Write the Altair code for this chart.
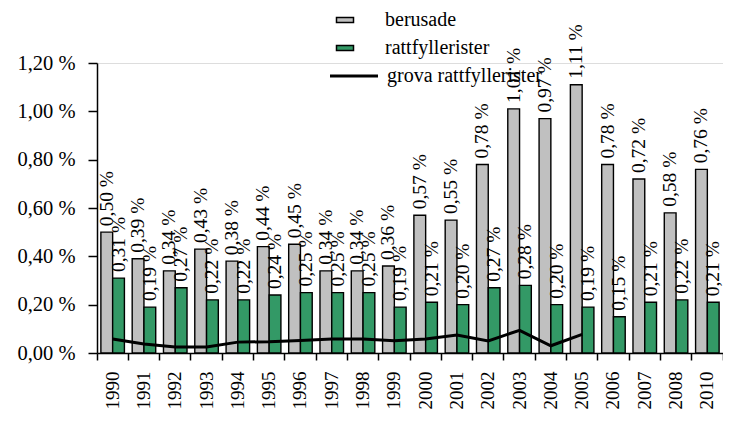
import altair as alt
import pandas as pd

years = ["1990", "1991", "1992", "1993", "1994", "1995", "1996", "1997", "1998", "1999",
         "2000", "2001", "2002", "2003", "2004", "2005", "2006", "2007", "2008", "2010"]
berusade = [0.50, 0.39, 0.34, 0.43, 0.38, 0.44, 0.45, 0.34, 0.34, 0.36,
            0.57, 0.55, 0.78, 1.01, 0.97, 1.11, 0.78, 0.72, 0.58, 0.76]
rattfyllerister = [0.31, 0.19, 0.27, 0.22, 0.22, 0.24, 0.25, 0.25, 0.25, 0.19,
                   0.21, 0.20, 0.27, 0.28, 0.20, 0.19, 0.15, 0.21, 0.22, 0.21]
grova_years = years[:16]
grova = [0.058, 0.037, 0.025, 0.025, 0.045, 0.047, 0.052, 0.058, 0.058, 0.051,
         0.058, 0.074, 0.050, 0.094, 0.030, 0.077]

series_names = ["berusade", "rattfyllerister"]
line_name = "grova rattfyllerister"


def fmt(v):
    return f"{v:.2f} %".replace(".", ",")


bars_df = pd.DataFrame({
    "year": years * 2,
    "series": [series_names[0]] * len(years) + [series_names[1]] * len(years),
    "value": berusade + rattfyllerister,
})
bars_df["label"] = bars_df["value"].map(fmt)
line_df = pd.DataFrame({"year": grova_years, "value": grova, "series": line_name})

FONT = "'Liberation Serif', 'Times New Roman', serif"
W, H = 626, 290

x = alt.X(
    "year:N", sort=years, title=None,
    scale=alt.Scale(paddingInner=0, paddingOuter=0),
    axis=alt.Axis(bandPosition=1, tickExtra=True, labelAngle=270,
                  labelFont=FONT, labelFontSize=19, labelColor="black",
                  tickColor="black", domainColor="black", tickSize=7, labelPadding=11,
                  domainWidth=1.5, tickWidth=1.5, grid=False),
)
y = alt.Y(
    "value:Q", title=None,
    scale=alt.Scale(domain=[0, 1.2], nice=False, zero=True),
    axis=alt.Axis(values=[0, 0.2, 0.4, 0.6, 0.8, 1.0, 1.2],
                  labelExpr="replace(format(datum.value, '.2f'), '.', ',') + ' %'",
                  labelFont=FONT, labelFontSize=20.5, labelColor="black",
                  tickColor="black", domainColor="black", tickSize=9, labelPadding=13,
                  domainWidth=1.5, tickWidth=1.5, grid=False),
)
xoff = alt.XOffset("series:N", sort=series_names,
                   scale=alt.Scale(paddingOuter=0.33, paddingInner=0))

bars = alt.Chart(bars_df).mark_bar(stroke="black", strokeWidth=1.4).encode(
    x=x, xOffset=xoff, y=y,
    color=alt.Color("series:N", sort=series_names,
                    scale=alt.Scale(domain=series_names, range=["#C0C0C0", "#339966"]),
                    legend=alt.Legend(orient="none", legendX=238, legendY=-53, title=None,
                                      symbolType="M-1.7,-0.5H1.7V0.5H-1.7Z", symbolSize=100,
                                      symbolStrokeColor="black", symbolStrokeWidth=1.5,
                                      symbolOpacity=1, labelOffset=30, labelFont=FONT,
                                      labelFontSize=20, labelColor="black", rowPadding=8,
                                      padding=0)),
)

labels = alt.Chart(bars_df).mark_text(
    angle=270, align="left", baseline="middle", dx=6, font=FONT, fontSize=19.5, color="black"
).encode(x=x, xOffset=xoff, y=y, text="label:N")

line = alt.Chart(line_df).mark_line(strokeWidth=3).encode(
    x=x, y=y,
    stroke=alt.Stroke("series:N",
                      scale=alt.Scale(domain=[line_name], range=["black"]),
                      legend=alt.Legend(orient="none", legendX=247, legendY=3, title=None,
                                        symbolType="M-4.8,0H4.8", symbolSize=100,
                                        symbolStrokeWidth=3, labelOffset=23, labelFont=FONT,
                                        labelFontSize=20, labelColor="black", padding=0)),
)

chart = alt.layer(bars, line, labels).properties(
    width=W, height=H,
    autosize=alt.AutoSizeParams(type="none"),
    padding={"left": 89, "top": 55, "right": 0, "bottom": 62},
).configure_view(stroke=None).configure(background="white")

chart.save("out.html", embed_options={"renderer": "svg", "actions": False})
